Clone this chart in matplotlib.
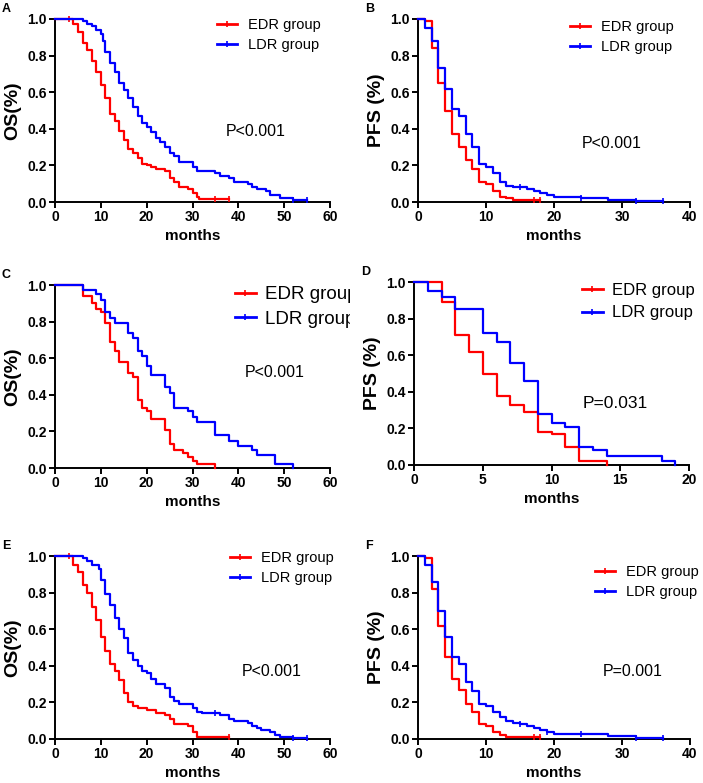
#!/usr/bin/env python3
"""
Kaplan-Meier curves (OS / PFS) for EDR vs LDR groups, six panels.
"""
import numpy as np
import matplotlib
matplotlib.use("Agg")
import matplotlib.pyplot as plt
from matplotlib.lines import Line2D
from matplotlib.transforms import Bbox, TransformedBbox

plt.rcParams['font.family'] = ['Liberation Sans', 'DejaVu Sans']

W, H = 703, 783

# ---- survival steps (time in months, survival fraction) ----
# Panel A - OS
a_edr_t = [0, 4, 5, 6, 7, 8, 9, 10, 11, 12, 13, 14, 15, 16, 17, 18, 19, 20, 21, 22,
           24, 25, 26, 27, 29, 30, 31, 31.5, 38]
a_edr_s = [1.0, 0.97, 0.93, 0.87, 0.83, 0.77, 0.71, 0.64, 0.57, 0.48, 0.44, 0.39, 0.34,
           0.29, 0.27, 0.24, 0.21, 0.20, 0.19, 0.18, 0.17, 0.13, 0.11, 0.08, 0.07, 0.05,
           0.03, 0.015, 0.015]
a_edr_c = [3, 35, 38]
a_ldr_t = [0, 6, 7, 8, 9, 10, 10.5, 11, 12, 13, 14, 15, 16, 17, 18, 19, 20, 21, 22, 23,
           24, 25, 26, 27, 30, 31, 35, 36, 38, 39, 42, 43, 44, 46, 47, 49, 52, 55]
a_ldr_s = [1.0, 0.99, 0.97, 0.96, 0.94, 0.92, 0.88, 0.82, 0.76, 0.71, 0.65, 0.61, 0.57,
           0.52, 0.47, 0.43, 0.41, 0.38, 0.35, 0.33, 0.30, 0.27, 0.25, 0.22, 0.19, 0.17,
           0.16, 0.14, 0.13, 0.11, 0.10, 0.08, 0.07, 0.06, 0.04, 0.02, 0.01, 0.01]
a_ldr_c = [52, 55]

# Panel B - PFS
b_edr_t = [0, 1, 2, 3, 4, 5, 6, 7, 8, 9, 10, 11, 12, 13, 14, 18]
b_edr_s = [1.0, 0.99, 0.84, 0.65, 0.50, 0.37, 0.30, 0.23, 0.18, 0.11, 0.10, 0.06, 0.03,
           0.02, 0.01, 0.01]
b_edr_c = [17, 18]
b_ldr_t = [0, 1, 2, 3, 4, 5, 6, 7, 8, 9, 10, 11, 12, 13, 14, 16, 17, 18, 19, 20, 24,
           28, 32, 36]
b_ldr_s = [1.0, 0.95, 0.88, 0.73, 0.62, 0.51, 0.47, 0.37, 0.30, 0.21, 0.19, 0.16, 0.11,
           0.09, 0.08, 0.07, 0.06, 0.05, 0.04, 0.03, 0.02, 0.01, 0.005, 0.005]
b_ldr_c = [15, 24, 32, 36]

# Panel C - OS
c_edr_t = [0, 6, 8, 9, 10, 11, 12, 13, 14, 16, 17, 18, 19, 20, 21, 24, 25, 26, 28, 29,
           30, 31, 35]
c_edr_s = [1.0, 0.94, 0.90, 0.87, 0.85, 0.79, 0.69, 0.64, 0.58, 0.52, 0.50, 0.37, 0.33,
           0.31, 0.27, 0.21, 0.13, 0.10, 0.08, 0.06, 0.04, 0.02, 0.0]
c_edr_c = []
c_ldr_t = [0, 6, 9, 10, 11, 12, 13, 16, 17, 18, 19, 20, 21, 24, 25, 26, 29, 30, 31, 35,
           38, 40, 43, 44, 48, 52]
c_ldr_s = [1.0, 0.97, 0.95, 0.92, 0.85, 0.82, 0.79, 0.74, 0.71, 0.64, 0.61, 0.56, 0.51,
           0.44, 0.41, 0.33, 0.31, 0.28, 0.25, 0.18, 0.15, 0.12, 0.10, 0.07, 0.02, 0.0]
c_ldr_c = []

# Panel D - PFS
d_edr_t = [0, 2, 3, 4, 5, 6, 7, 8, 9, 10, 11, 12, 14]
d_edr_s = [1.0, 0.89, 0.71, 0.62, 0.50, 0.375, 0.33, 0.29, 0.18, 0.17, 0.10, 0.02, 0.0]
d_edr_c = []
d_ldr_t = [0, 1, 2, 3, 5, 6, 7, 8, 9, 10, 11, 12, 13, 14, 18, 19]
d_ldr_s = [1.0, 0.95, 0.92, 0.85, 0.72, 0.67, 0.56, 0.46, 0.28, 0.23, 0.21, 0.10, 0.08,
           0.05, 0.02, 0.0]
d_ldr_c = []

# Panel E - OS
e_edr_t = [0, 4, 5, 6, 7, 8, 9, 10, 11, 12, 13, 14, 15, 16, 17, 18, 20, 22, 24, 25, 26,
           29, 30, 31, 38]
e_edr_s = [1.0, 0.95, 0.91, 0.84, 0.80, 0.72, 0.65, 0.56, 0.48, 0.41, 0.37, 0.32, 0.25,
           0.20, 0.18, 0.17, 0.16, 0.14, 0.13, 0.11, 0.08, 0.07, 0.04, 0.01, 0.01]
e_edr_c = [3, 38]
e_ldr_t = [0, 6, 7, 8, 9.5, 10, 11, 12, 13, 14, 15, 16, 17, 18, 19, 20, 21, 22, 24, 25,
           26, 27, 30, 31, 32, 36, 38, 39, 42, 43, 44, 45, 47, 48, 49, 52, 55]
e_ldr_s = [1.0, 0.99, 0.97, 0.95, 0.93, 0.87, 0.79, 0.73, 0.66, 0.60, 0.55, 0.47, 0.43,
           0.40, 0.37, 0.36, 0.33, 0.30, 0.28, 0.23, 0.21, 0.19, 0.17, 0.15, 0.14, 0.13,
           0.11, 0.10, 0.09, 0.07, 0.06, 0.05, 0.04, 0.02, 0.01, 0.005, 0.005]
e_ldr_c = [35, 52, 55]

# Panel F - PFS
f_edr_t = [0, 1, 2, 3, 4, 5, 6, 7, 8, 9, 10, 11, 12, 13, 18]
f_edr_s = [1.0, 0.99, 0.82, 0.62, 0.45, 0.33, 0.27, 0.19, 0.15, 0.08, 0.07, 0.04, 0.02,
           0.01, 0.01]
f_edr_c = [17, 18]
f_ldr_t = [0, 1, 2, 3, 4, 5, 6, 7, 8, 9, 10, 11, 12, 13, 14, 15, 16, 17, 18, 19, 20,
           24, 28, 32, 36]
f_ldr_s = [1.0, 0.95, 0.86, 0.70, 0.56, 0.45, 0.41, 0.31, 0.26, 0.19, 0.18, 0.15, 0.12,
           0.10, 0.09, 0.08, 0.07, 0.06, 0.05, 0.04, 0.03, 0.025, 0.015, 0.005, 0.005]
f_ldr_c = [15, 19, 24, 32, 36]

group_labels = ['EDR group', 'LDR group']
group_colors = ['#ff0000', '#0000ff']


def fig_rect(left, top, right, bottom):
    """Pixel box -> figure fraction rect."""
    return [left / W, 1 - bottom / H, (right - left) / W, (bottom - top) / H]


def draw_curve(ax, t, s, cens, color):
    ax.step(t, s, where='post', color=color, lw=1.6, clip_on=False, zorder=3)
    if cens:
        t_arr = np.asarray(t)
        s_arr = np.asarray(s)
        idx = np.searchsorted(t_arr, cens, side='right') - 1
        ax.plot(cens, s_arr[idx], ls='none', marker='|', ms=4, mew=1.2,
                color=color, clip_on=False, zorder=3)


def panel(fig, rect, letter, curves, xmax, xstep, ylabel, pval, pval_xy, pval_size,
          leg_xy, leg_size, leg_spacing, hlen=1.4, hpad=0.75):
    ax = fig.add_axes(fig_rect(*rect))
    for (t, s, c), color in zip(curves, group_colors):
        draw_curve(ax, t, s, c, color)

    ax.set_xlim(0, xmax)
    ax.set_ylim(0, 1.0)
    ax.set_xticks(np.arange(0, xmax + 0.1, xstep))
    ax.set_yticks(np.arange(0, 1.01, 0.2))
    ax.yaxis.set_major_formatter(plt.FormatStrFormatter('%.1f'))
    for side in ['top', 'right']:
        ax.spines[side].set_visible(False)
    for side in ['left', 'bottom']:
        ax.spines[side].set_linewidth(1.4)
    ax.tick_params(length=4, width=1.4, labelsize=10, pad=2)
    for lab in ax.get_xticklabels() + ax.get_yticklabels():
        lab.set_fontweight('bold')

    ax.set_xlabel('months', fontsize=11, fontweight='bold')
    ax.xaxis.set_label_coords(0.5, -0.15)
    ax.set_ylabel(ylabel, fontsize=14, fontweight='bold')

    # panel letter
    fig.text((rect[0] - 53) / W, 1 - (rect[1] - 10) / H, letter, fontsize=9,
             fontweight='bold', va='center', ha='left')

    # p value
    fig.text(pval_xy[0] / W, 1 - pval_xy[1] / H, pval, fontsize=pval_size,
             va='center', ha='left')

    handles = [Line2D([], [], color=col, lw=2, marker='|', ms=4, mew=1.2)
               for col in group_colors]
    leg = ax.legend(handles, group_labels, loc='upper left', frameon=False,
                    bbox_to_anchor=(leg_xy[0] / W, 1 - leg_xy[1] / H),
                    bbox_transform=fig.transFigure, fontsize=leg_size,
                    borderpad=0, borderaxespad=0, handlelength=hlen,
                    handletextpad=hpad, labelspacing=leg_spacing, numpoints=1)
    return ax, leg


def main():
    fig = plt.figure(figsize=(W / 100, H / 100), dpi=100)

    panel(fig, (55, 19, 330, 202), 'A',
          [(a_edr_t, a_edr_s, a_edr_c), (a_ldr_t, a_ldr_s, a_ldr_c)],
          60, 10, 'OS(%)', 'P<0.001', (226, 132), 11.5, (217, 18), 10.5, 0.4)
    panel(fig, (418, 19, 690, 202), 'B',
          [(b_edr_t, b_edr_s, b_edr_c), (b_ldr_t, b_ldr_s, b_ldr_c)],
          40, 10, 'PFS (%)', 'P<0.001', (582, 143), 11.5, (570, 20), 10.5, 0.4)
    ax_c, leg_c = panel(fig, (55, 285, 330, 468), 'C',
                        [(c_edr_t, c_edr_s, c_edr_c), (c_ldr_t, c_ldr_s, c_ldr_c)],
                        60, 10, 'OS(%)', 'P<0.001', (245, 373), 11.5, (235, 286),
                        13.5, 0.4, hlen=1.1, hpad=0.5)
    panel(fig, (414, 282, 689, 465), 'D',
          [(d_edr_t, d_edr_s, d_edr_c), (d_ldr_t, d_ldr_s, d_ldr_c)],
          20, 5, 'PFS (%)', 'P=0.031', (583, 403), 12.5, (582, 283), 12, 0.45,
          hlen=1.25, hpad=0.55)
    panel(fig, (55, 556, 330, 739), 'E',
          [(e_edr_t, e_edr_s, e_edr_c), (e_ldr_t, e_ldr_s, e_ldr_c)],
          60, 10, 'OS(%)', 'P<0.001', (242, 671), 11.5, (230, 551), 10.5, 0.4)
    panel(fig, (418, 556, 690, 739), 'F',
          [(f_edr_t, f_edr_s, f_edr_c), (f_ldr_t, f_ldr_s, f_ldr_c)],
          40, 10, 'PFS (%)', 'P=0.001', (603, 671), 11.5, (595, 565), 10.5, 0.4)

    # panel C legend is cut off at the column edge in the original
    clip = TransformedBbox(Bbox.from_extents(0, 0, 350 / W, 1), fig.transFigure)
    for txt in leg_c.get_texts():
        txt.set_clip_box(clip)
        txt.set_clip_on(True)

    fig.savefig('out.png', dpi=100)
    return 0


if __name__ == "__main__":
    exit(main())
